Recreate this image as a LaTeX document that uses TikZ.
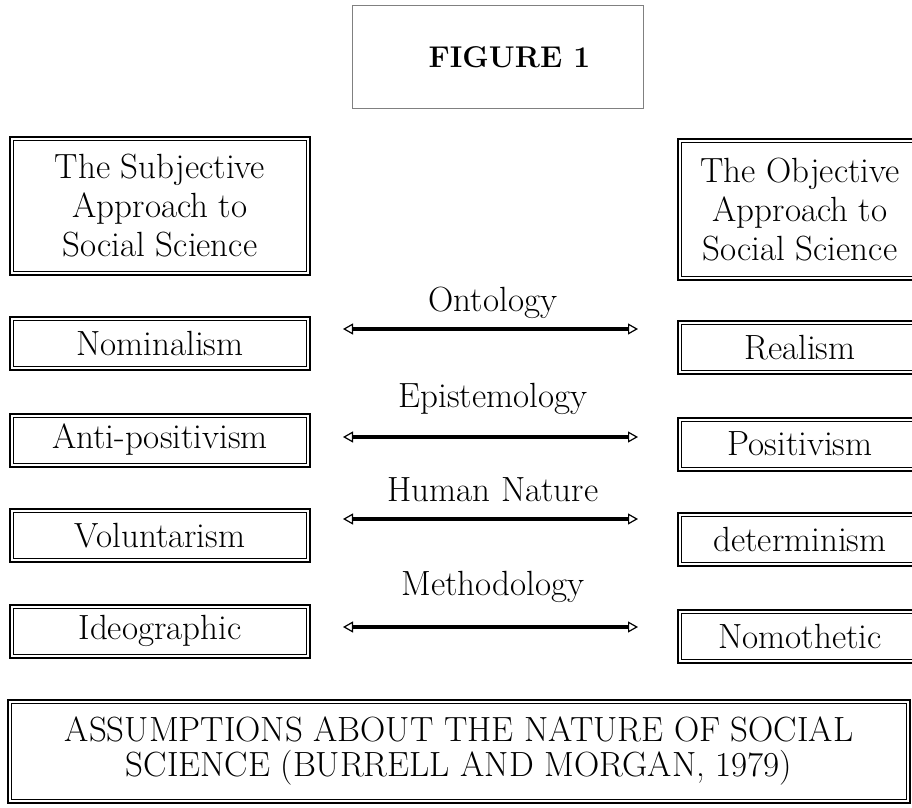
\documentclass[tikz,border=0pt]{standalone}
\usepackage{tikz}
\usetikzlibrary{arrows.meta}

\begin{document}
\begin{tikzpicture}[x=0.5pt,y=-0.5pt,>={Triangle[open,length=5pt,width=5.5pt,line width=0.6pt]}]
    \tikzstyle{box}=[draw, line width=1pt, minimum width=150pt, minimum height=26.5pt, inner sep=0pt, align=center,
        font=\fontsize{17.5}{19.5}\selectfont,
        path picture={\draw[line width=0.4pt] ([shift={(1.8pt,-1.8pt)}]path picture bounding box.north west) rectangle ([shift={(-1.8pt,1.8pt)}]path picture bounding box.south east);}]
    \tikzstyle{rbox}=[style=box, minimum width=122pt]
    \tikzstyle{lab}=[font=\fontsize{17.5}{19.5}\selectfont, anchor=base, inner sep=0pt]
    \tikzstyle{pole}=[<->, line width=2.4pt]

    \useasboundingbox (0,0) rectangle (912,808);

    \node[draw=gray, line width=0.5pt, minimum width=145.5pt, minimum height=51.5pt,
          font=\fontsize{15}{18}\selectfont\bfseries] (fig) at (497.5,57.5) {\hspace*{12pt}FIGURE 1};

    \node[box, minimum height=69pt]    (subj) at (160,206)   {The Subjective\\Approach to\\Social Science};
    \node[rbox, minimum height=70.5pt] (obj)  at (800,209.5) {The Objective\\Approach to\\Social Science};

    \node[box]  (nom)  at (160,343.5) {Nominalism};
    \node[rbox] (real) at (800,347.5) {Realism};
    \node[box]  (anti) at (160,440)   {Anti-positivism};
    \node[rbox] (pos)  at (800,444)   {Positivism};
    \node[box]  (vol)  at (160,535.5) {Voluntarism};
    \node[rbox] (det)  at (800,539.5) {determinism};
    \node[box]  (ideo) at (160,631)   {Ideographic};
    \node[rbox] (nomo) at (800,636)   {Nomothetic};

    \node[lab] (ont) at (493,312) {Ontology};
    \node[lab] (epi) at (493,408) {Epistemology};
    \node[lab] (hum) at (493,502) {Human Nature};
    \node[lab] (met) at (493,595) {Methodology};

    \foreach \i/\y in {1/329,2/437,3/519,4/627}{
        \coordinate (w\i) at (343,\y);
        \coordinate (e\i) at (638,\y);
        \draw[pole] (w\i) -- (e\i);
    }

    \node[box, minimum width=451pt, minimum height=51.5pt, font=\fontsize{17.5}{17.5}\selectfont] (title) at (459,751.5)
        {ASSUMPTIONS ABOUT THE NATURE OF SOCIAL\\SCIENCE (BURRELL AND MORGAN, 1979)};
\end{tikzpicture}
\end{document}
